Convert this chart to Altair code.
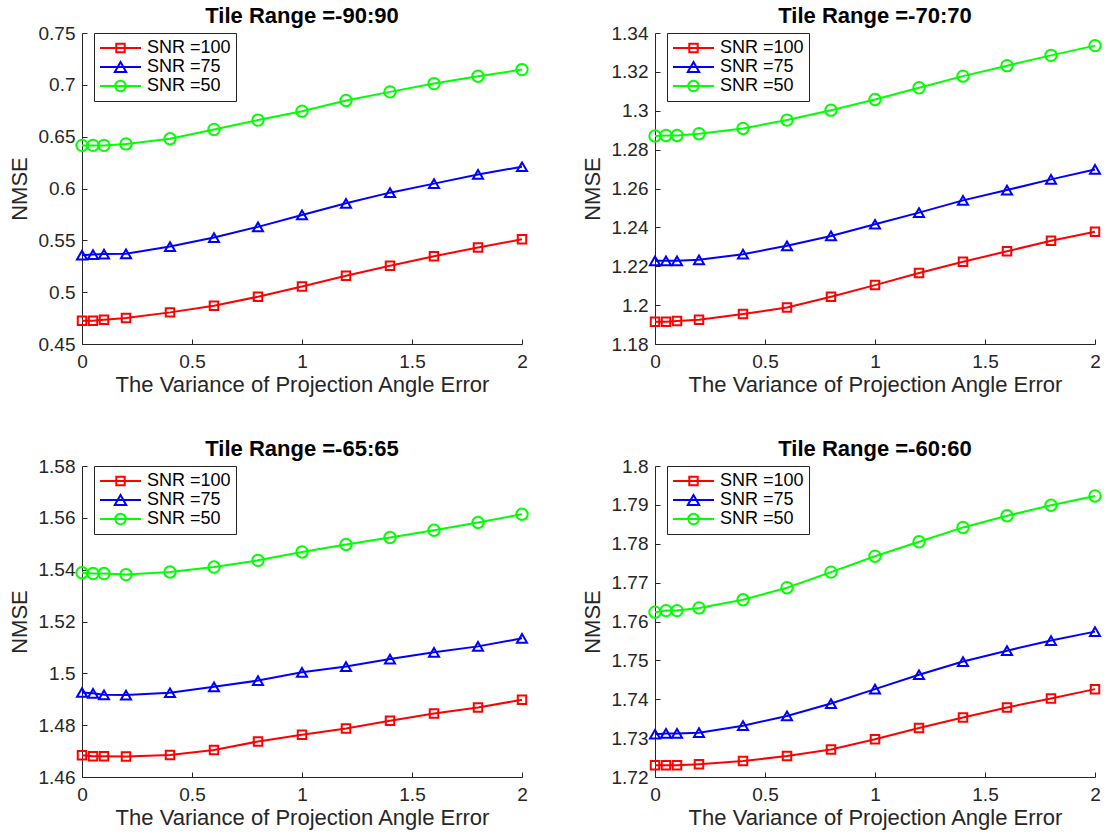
import altair as alt
import pandas as pd

# Shared x grid: variance of the projection angle error
x_vals = [0, 0.05, 0.1, 0.2, 0.4, 0.6, 0.8, 1.0, 1.2, 1.4, 1.6, 1.8, 2.0]
x_ticks = [0, 0.5, 1, 1.5, 2]

series_names = ["SNR =100", "SNR =75", "SNR =50"]
series_colors = ["#ff0000", "#0000ff", "#00ff00"]
series_shapes = ["square", "triangle-up", "circle"]
series_sizes = [72, 130, 110]

# Tilt range -90:90
r90_snr100 = [0.4725, 0.4725, 0.4735, 0.475, 0.4805, 0.487, 0.4956, 0.5055, 0.5158, 0.5254, 0.5347, 0.543, 0.551]
r90_snr75 = [0.5357, 0.5363, 0.5367, 0.537, 0.544, 0.5527, 0.563, 0.5745, 0.5857, 0.596, 0.6047, 0.6136, 0.621]
r90_snr50 = [0.6416, 0.6416, 0.6416, 0.643, 0.648, 0.657, 0.666, 0.6746, 0.6849, 0.6932, 0.7012, 0.7083, 0.7147]
r90_ticks = [0.45, 0.5, 0.55, 0.6, 0.65, 0.7, 0.75]

# Tilt range -70:70
r70_snr100 = [1.1915, 1.1915, 1.1918, 1.1925, 1.1954, 1.1988, 1.2043, 1.2103, 1.2165, 1.2223, 1.2277, 1.2331, 1.2378]
r70_snr75 = [1.2228, 1.2228, 1.2228, 1.2233, 1.2262, 1.2305, 1.2356, 1.2416, 1.2476, 1.2539, 1.2592, 1.2647, 1.2698]
r70_snr50 = [1.287, 1.2873, 1.2873, 1.2882, 1.2909, 1.2952, 1.3003, 1.3058, 1.3118, 1.3178, 1.3232, 1.3285, 1.3335]
r70_ticks = [1.18, 1.2, 1.22, 1.24, 1.26, 1.28, 1.3, 1.32, 1.34]

# Tilt range -65:65
r65_snr100 = [1.4684, 1.468, 1.468, 1.4679, 1.4685, 1.4704, 1.4737, 1.4763, 1.4787, 1.4817, 1.4845, 1.4868, 1.4898]
r65_snr75 = [1.4926, 1.4923, 1.4917, 1.4916, 1.4925, 1.4948, 1.4972, 1.5004, 1.5026, 1.5055, 1.5081, 1.5104, 1.5135]
r65_snr50 = [1.5388, 1.5385, 1.5385, 1.5381, 1.5391, 1.541, 1.5436, 1.5468, 1.5497, 1.5524, 1.5552, 1.5582, 1.5614]
r65_ticks = [1.46, 1.48, 1.5, 1.52, 1.54, 1.56, 1.58]

# Tilt range -60:60
r60_snr100 = [1.723, 1.723, 1.723, 1.7233, 1.7241, 1.7254, 1.7271, 1.7297, 1.7326, 1.7353, 1.7379, 1.7402, 1.7426]
r60_snr75 = [1.731, 1.7312, 1.7312, 1.7314, 1.7332, 1.7357, 1.7389, 1.7426, 1.7463, 1.7497, 1.7525, 1.7551, 1.7574]
r60_snr50 = [1.7624, 1.7628, 1.7628, 1.7635, 1.7656, 1.7687, 1.7727, 1.7768, 1.7805, 1.7842, 1.7872, 1.7899, 1.7923]
r60_ticks = [1.72, 1.73, 1.74, 1.75, 1.76, 1.77, 1.78, 1.79, 1.8]

FONT = "Liberation Sans"
INK = "#262626"
W, H = 440, 311
LEGEND_SYMBOL = 324  # symbol box area used for the legend layout (20 px rows)


def legend_paths():
    """Line-with-marker glyphs for the legend (unit = half the symbol box)."""
    r = LEGEND_SYMBOL ** 0.5 / 2
    span = 41.0        # legend line sample length, px
    left = -1.0
    right = left + span / r
    c = left + span / (2 * r)
    line = f"M{left},0H{right:.4f}"
    s = 4.2 / r
    square = f"M{c - s:.4f},{-s:.4f}H{c + s:.4f}V{s:.4f}H{c - s:.4f}Z"
    tw, th = 5.7 / r, (5.7 * 0.866) / r
    tri = f"M{c:.4f},{-th:.4f}L{c + tw:.4f},{th:.4f}L{c - tw:.4f},{th:.4f}Z"
    cr = 5.25 / r
    circ = (f"M{c + cr:.4f},0A{cr:.4f},{cr:.4f} 0 1 1 {c - cr:.4f},0"
            f"A{cr:.4f},{cr:.4f} 0 1 1 {c + cr:.4f},0")
    return [line + square, line + tri, line + circ]


legend_shapes = legend_paths()


def panel(title, ys, y_domain, y_ticks):
    rows = []
    for name, vals in zip(series_names, ys):
        for xv, yv in zip(x_vals, vals):
            rows.append({"x": xv, "nmse": yv, "series": name})
    df = pd.DataFrame(rows)

    x_scale = alt.Scale(domain=[0, 2], nice=False, zero=False)
    y_scale = alt.Scale(domain=y_domain, nice=False, zero=False)
    color_scale = alt.Scale(domain=series_names, range=series_colors)

    legend = alt.Legend(
        title=None, orient="none", legendX=12, legendY=0, direction="vertical",
        labelFont=FONT, labelFontSize=18, labelColor="#000000", labelOffset=28,
        symbolSize=LEGEND_SYMBOL, symbolStrokeWidth=2, symbolFillColor="transparent",
        symbolOpacity=1, rowPadding=0, strokeColor=INK, fillColor="#ffffff",
        padding=5, cornerRadius=0,
    )

    base = alt.Chart(df)
    lines = base.mark_line(strokeWidth=2).encode(
        x=alt.X("x:Q", scale=x_scale, axis=alt.Axis(
            values=x_ticks, format="~g", title="The Variance of Projection Angle Error",
            ticks=False, grid=False, labelFlush=False, labelOverlap=False,
            labelPadding=8, titlePadding=3)),
        y=alt.Y("nmse:Q", scale=y_scale, axis=alt.Axis(
            values=y_ticks, format=".2~f", title="NMSE",
            ticks=False, grid=False, labelFlush=False, labelOverlap=False,
            labelPadding=7, titlePadding=7)),
        color=alt.Color("series:N", scale=color_scale, legend=None),
    )
    # markers carry inward-pointing tick axes (top/right axes pulled onto the frame)
    points = base.mark_point(filled=False, strokeWidth=2, opacity=1).encode(
        x=alt.X("x:Q", scale=x_scale, axis=alt.Axis(
            orient="top", offset=-H, values=x_ticks, labels=False, domain=False,
            grid=False, tickSize=5, title=None)),
        y=alt.Y("nmse:Q", scale=y_scale, axis=alt.Axis(
            orient="right", offset=-W, values=y_ticks, labels=False, domain=False,
            grid=False, tickSize=5, title=None)),
        color=alt.Color("series:N", scale=color_scale, legend=None),
        shape=alt.Shape("series:N", scale=alt.Scale(domain=series_names, range=series_shapes), legend=None),
        size=alt.Size("series:N", scale=alt.Scale(domain=series_names, range=series_sizes), legend=None),
    )
    # legend-only layer: no rows survive the filter, the scales carry the entries
    key = base.transform_filter("datum.x < 0").mark_point(
        filled=False, strokeWidth=2, opacity=1
    ).encode(
        x=alt.X("x:Q", scale=x_scale, axis=None),
        y=alt.Y("nmse:Q", scale=y_scale, axis=None),
        color=alt.Color("series:N", scale=color_scale, legend=legend),
        shape=alt.Shape("series:N", scale=alt.Scale(domain=series_names, range=legend_shapes), legend=legend),
    )
    return alt.layer(lines, points, key).resolve_scale(
        color="independent", shape="independent", size="independent"
    ).resolve_axis(x="independent", y="independent").properties(
        width=W, height=H,
        title=alt.TitleParams(title, font=FONT, fontSize=22, fontWeight="bold",
                              color="#000000", offset=-4, anchor="middle"),
    )


panels = [
    panel("Tile Range =-90:90", [r90_snr100, r90_snr75, r90_snr50], [0.45, 0.75], r90_ticks),
    panel("Tile Range =-70:70", [r70_snr100, r70_snr75, r70_snr50], [1.18, 1.34], r70_ticks),
    panel("Tile Range =-65:65", [r65_snr100, r65_snr75, r65_snr50], [1.46, 1.58], r65_ticks),
    panel("Tile Range =-60:60", [r60_snr100, r60_snr75, r60_snr50], [1.72, 1.8], r60_ticks),
]

chart = alt.concat(
    *panels, columns=2, spacing={"row": 122, "column": 133}, bounds="flush"
).resolve_scale(
    color="independent", shape="independent", size="independent"
).resolve_legend(
    color="independent", shape="independent", size="independent"
).properties(
    padding={"left": 8, "top": 5, "right": 0, "bottom": 2},
    background="#ffffff",
).configure_view(stroke=None).configure_axis(
    labelFont=FONT, labelFontSize=19, labelColor=INK,
    titleFont=FONT, titleFontSize=22, titleFontWeight="normal", titleColor=INK,
    domainColor=INK, domainWidth=1, tickColor=INK, tickWidth=1,
)

chart.save("out.html", embed_options={"renderer": "svg", "actions": False})
